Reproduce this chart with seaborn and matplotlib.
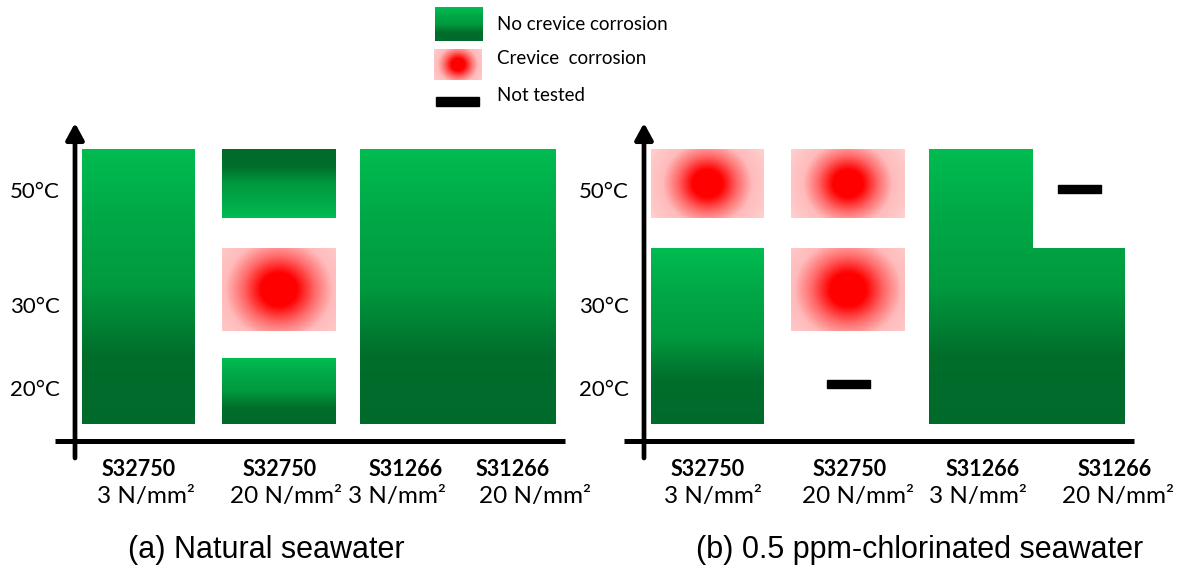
import numpy as np
import matplotlib.pyplot as plt
from matplotlib.patches import Rectangle
import seaborn as sns

# test results, listed per column (alloy / applied stress) from 20 to 50 degC
# N = no crevice corrosion, C = crevice corrosion, X = not tested
temperatures = ["20°C", "30°C", "50°C"]
alloys = ["S32750", "S32750", "S31266", "S31266"]
stresses = ["3 N/mm²", "20 N/mm²", "3 N/mm²", "20 N/mm²"]
natural_results = [["N", "N", "N"], ["N", "C", "N"], ["N", "N", "N"], ["N", "N", "N"]]
chlorinated_results = [["N", "N", "C"], ["X", "C", "C"], ["N", "N", "N"], ["N", "N", "X"]]
panel_titles = ["(a) Natural seawater", "(b) 0.5 ppm-chlorinated seawater"]
legend_labels = ["No crevice corrosion", "Crevice  corrosion", "Not tested"]

# layout in pixels, measured from the corner where the two axis arrows meet
COL_EDGES = [(7, 120), (147, 261), (285, 389), (389, 481)]
ROW_BANDS = [(17, 83), (110, 193), (223, 292)]
TICK_Y = [51, 134, 249]
DASH_Y = [57, 137, 252]
PANEL_ORIGIN = [75, 644]
LABEL_X = [([64, 205, 331, 438], [71, 211, 322, 460]),
           ([64, 206, 339, 471], [69, 214, 334, 474])]
CAPTION_X = [191, 276]
W, H = 1182, 569
ORIGIN_Y = 441

sns.set_theme(style="white")
plt.rcParams["font.family"] = ["Lato", "DejaVu Sans"]
plt.rcParams["text.color"] = "black"

green_cmap = sns.blend_palette(["#00BC50", "#00A846", "#009A3E", "#006E2C", "#006A2A"], as_cmap=True)
red_cmap = sns.blend_palette(["#FF0000", "#FF0000", "#FF6A6A", "#FFBBBB", "#FFC8C8", "#FFD8D8"],
                             as_cmap=True)


def crevice_image(w, h):
    xx, yy = np.meshgrid(np.arange(w) - (w - 1) / 2, np.arange(h) - (h - 1) / 2)
    r = np.hypot(xx / 1.08, yy) / h
    return red_cmap(np.clip(r, 0, 1))


def draw_green(ax, x0, x1, y0, y1, top, bottom, flip=False):
    ys = np.linspace(y1, y0, max(int(y1 - y0), 2))
    t = (top - ys) / (top - bottom)
    if flip:
        t = 1 - t
    ax.imshow(t[:, None], cmap=green_cmap, vmin=0, vmax=1, extent=(x0, x1, y0, y1),
              aspect="auto", interpolation="nearest", zorder=2)


def none_runs(results):
    # contiguous "no corrosion" temperatures in a column become one block
    runs = []
    for c, col in enumerate(results):
        r = 0
        while r < len(col):
            if col[r] == "N":
                s = r
                while r + 1 < len(col) and col[r + 1] == "N":
                    r += 1
                runs.append((c, s, r))
            r += 1
    return runs


def draw_panel(ax, results, k):
    runs = none_runs(results)
    # runs in columns that touch side by side share one gradient
    group = list(range(len(runs)))
    for i, (c1, s1, e1) in enumerate(runs):
        for j, (c2, s2, e2) in enumerate(runs):
            if COL_EDGES[c1][1] == COL_EDGES[c2][0] and s1 <= e2 and s2 <= e1:
                group[j] = group[i]
    for i, (c, s, e) in enumerate(runs):
        members = [runs[j] for j in range(len(runs)) if group[j] == group[i]]
        top = max(ROW_BANDS[m[2]][1] for m in members)
        bottom = min(ROW_BANDS[m[1]][0] for m in members)
        lone_top = s == e == len(temperatures) - 1
        draw_green(ax, COL_EDGES[c][0], COL_EDGES[c][1], ROW_BANDS[s][0], ROW_BANDS[e][1],
                   top, bottom, flip=lone_top)

    for c, col in enumerate(results):
        x0, x1 = COL_EDGES[c]
        for r, status in enumerate(col):
            y0, y1 = ROW_BANDS[r]
            if status == "C":
                img = crevice_image(int(x1 - x0), int(y1 - y0))
                ax.imshow(img, extent=(x0, x1, y0, y1), aspect="auto", zorder=2)
            elif status == "X":
                cx = (x0 + x1) / 2
                ax.add_patch(Rectangle((cx - 21.5, DASH_Y[r] - 4), 43, 8, color="black", zorder=3))

    # axes arrows
    ax.plot([-20, 490], [0, 0], color="black", lw=3.6, solid_capstyle="butt", zorder=4)
    ax.annotate("", xy=(0, 318), xytext=(0, -17),
                arrowprops=dict(arrowstyle="-|>,head_length=0.55,head_width=0.3",
                                lw=3.4, color="black", mutation_scale=18,
                                shrinkA=0, shrinkB=0), zorder=4)

    for y, lab in zip(TICK_Y, temperatures):
        ax.text(-15, y, lab, ha="right", va="center", fontsize=16)
    bold_x, reg_x = LABEL_X[k]
    for i in range(len(alloys)):
        ax.text(bold_x[i], -29, alloys[i], ha="center", va="center", fontsize=15.5,
                fontweight="bold")
        ax.text(reg_x[i], -56, stresses[i], ha="center", va="center", fontsize=17.5)
    ax.text(CAPTION_X[k], -109, panel_titles[k], ha="center", va="center", fontsize=22,
            family=["Liberation Sans", "DejaVu Sans"])


fig = plt.figure(figsize=(W / 100, H / 100), dpi=100)
fig.patch.set_facecolor("white")

for k, results in enumerate([natural_results, chlorinated_results]):
    left = k * W / 2
    ax = fig.add_axes([left / W, 0, 0.5, 1])
    ax.set_xlim(left - PANEL_ORIGIN[k], left + W / 2 - PANEL_ORIGIN[k])
    ax.set_ylim(ORIGIN_Y - H, ORIGIN_Y)
    ax.axis("off")
    draw_panel(ax, results, k)

# legend on top, in plain pixel coordinates
lax = fig.add_axes([0, 0, 1, 1])
lax.set_xlim(0, W)
lax.set_ylim(H, 0)
lax.axis("off")
lax.patch.set_alpha(0)
lax.imshow(np.linspace(0, 1, 60)[:, None], cmap=green_cmap, vmin=0, vmax=1,
           extent=(435, 483, 41, 7), aspect="auto", interpolation="nearest")
lax.imshow(crevice_image(48, 31), extent=(434, 482, 80, 49), aspect="auto")
lax.add_patch(Rectangle((436, 97), 43, 9, color="black"))
for y, lab in zip([24, 58, 95], legend_labels):
    lax.text(497, y, lab, ha="left", va="center", fontsize=13.5)

fig.savefig("out.png", dpi=100)
